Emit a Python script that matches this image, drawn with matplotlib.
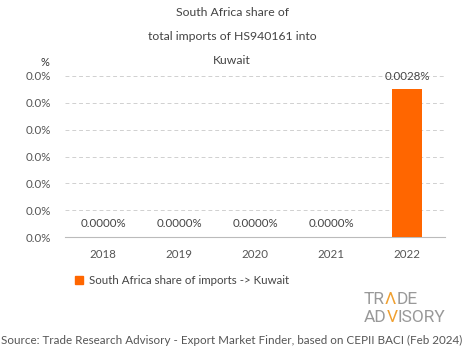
import numpy as np
import matplotlib
matplotlib.use('agg')
import matplotlib.pyplot as plt

years = ['2018', '2019', '2020', '2021', '2022']
share_pct = [0.0, 0.0, 0.0, 0.0, 0.00275]
value_labels = ['0.0000%', '0.0000%', '0.0000%', '0.0000%', '0.0028%']
yticks = [0.0, 0.0005, 0.0010, 0.0015, 0.0020, 0.0025, 0.0030]

plt.rcParams['font.family'] = ['Lato', 'DejaVu Sans']

fig = plt.figure(figsize=(4.65, 3.59), dpi=100)
W, H = 465, 359
# plot area in pixels: x 65..445, y 76..237
ax = fig.add_axes([65 / W, 1 - 237 / H, 380 / W, (237 - 76) / H])

x = np.arange(len(years))
ax.bar(x, share_pct, width=0.4, color='#ff6600', zorder=3)
for xi, v, lab in zip(x, share_pct, value_labels):
    ax.text(xi, v + 0.00014, lab, ha='center', va='bottom', fontsize=8.3, color='#444444', zorder=4)

ax.set_xlim(-0.5, len(years) - 0.5)
ax.set_ylim(0, 0.0030)
ax.set_yticks(yticks)
ax.set_yticklabels(['{:.1f}%'.format(t) for t in yticks])
ax.set_xticks(x)
ax.set_xticklabels(years)
ax.tick_params(axis='both', length=0, labelsize=8.3, labelcolor='#555555')
ax.tick_params(axis='y', pad=10)
ax.tick_params(axis='x', pad=9)
ax.yaxis.grid(True, linestyle=(0, (4, 3)), color='#d0d0d0', linewidth=0.7, zorder=0)
for s in ['top', 'right', 'left']:
    ax.spines[s].set_visible(False)
ax.spines['bottom'].set_color('#bbbbbb')
ax.spines['bottom'].set_linewidth(0.8)

fig.text(232 / W, 1 - 13 / H, 'South Africa share of', ha='center', va='center', fontsize=8.8, color='#444444')
fig.text(232 / W, 1 - 37 / H, 'total imports of HS940161 into', ha='center', va='center', fontsize=8.8, color='#444444')
fig.text(232 / W, 1 - 60 / H, 'Kuwait', ha='center', va='center', fontsize=8.8, color='#444444')
fig.text(45 / W, 1 - 62 / H, '%', ha='center', va='center', fontsize=8, color='#333333')

# legend
fig.patches.append(plt.Rectangle((75 / W, 1 - 284 / H), 8 / W, 8 / H, transform=fig.transFigure,
                                 color='#ff6600', figure=fig))
fig.text(89 / W, 1 - 280 / H, 'South Africa share of imports -> Kuwait', ha='left', va='center',
         fontsize=8.3, color='#444444')

# logo: gray letters with orange Λ / V
renderer = fig.canvas.get_renderer()


def logo_line(x0, y0, pieces, size):
    xp = x0
    for txt, col in pieces:
        t = fig.text(xp / W, 1 - y0 / H, txt, ha='left', va='center', fontsize=size, color=col,
                     family='Roboto')
        xp += t.get_window_extent(renderer).width


logo_line(364, 300, [('TR', '#999999'), ('\u039b', '#f0a030'), ('DE', '#999999')], 12.5)
logo_line(364, 318, [('AD', '#999999'), ('V', '#f0a030'), ('ISORY', '#999999')], 12.5)

fig.text(232 / W, 1 - 340 / H, 'Source: Trade Research Advisory - Export Market Finder, based on CEPII BACI (Feb 2024)',
         ha='center', va='center', fontsize=8.4, color='#555555')

fig.savefig('out.png', dpi=100)
